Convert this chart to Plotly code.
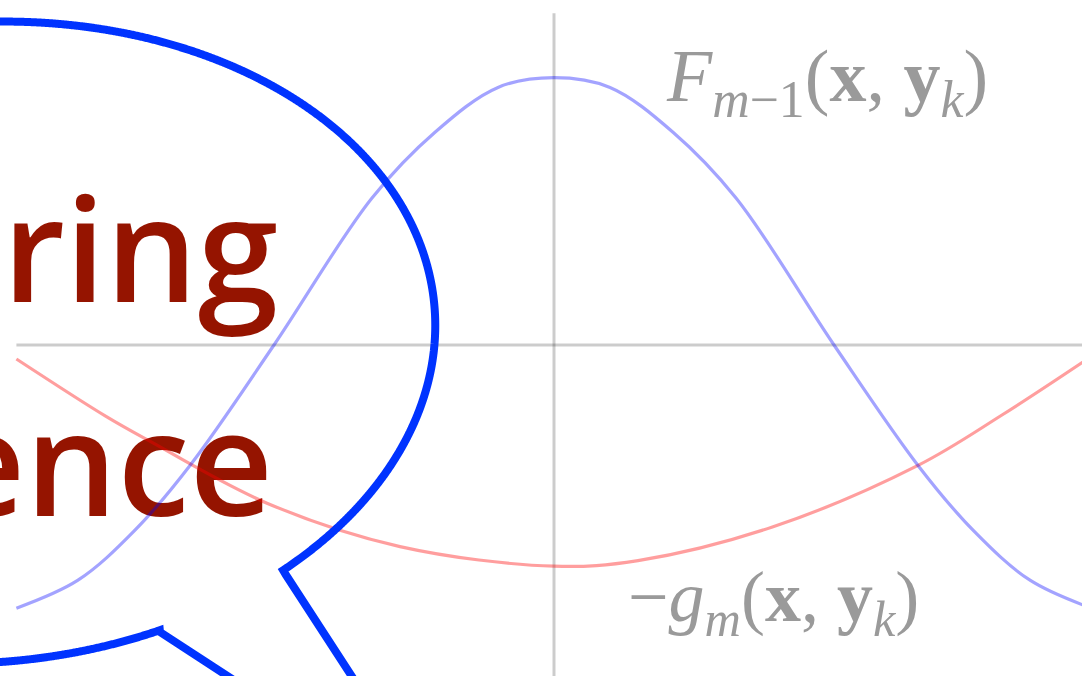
import numpy as np
import plotly.graph_objects as go

# Sampled curves (x, y in plot units)
x_blue = [-3.84, -3.4, -3.0, -2.6, -2.0, -1.3, -0.85, -0.4, 0.0, 0.4, 0.85, 1.3, 2.0, 2.6, 3.0, 3.4, 3.84]
y_blue = [-1.88, -1.68, -1.33, -0.86, 0.0, 1.05, 1.52, 1.84, 1.91, 1.84, 1.52, 1.05, 0.0, -0.86, -1.33, -1.68, -1.88]

x_red = [-3.84, -3.2, -2.9, -2.05, -1.1, 0.0, 0.6, 1.56, 2.6, 3.2, 3.84]
y_red = [-0.10, -0.51, -0.68, -1.13, -1.44, -1.58, -1.54, -1.30, -0.86, -0.50, -0.08]

# Axis extents
axis_x = [-3.84, 3.9]
axis_y = [-2.5, 2.37]

label_f = "<i>F</i><sub><i>m</i>−1</sub>(<b>x</b>, <b>y</b><sub><i>k</i></sub>)"
label_g = "−<i>g</i><sub><i>m</i></sub>(<b>x</b>, <b>y</b><sub><i>k</i></sub>)"

bubble_words = ["iring", "ence"]

W, H = 1082, 676
X0, Y0, UNIT = 554, 345, 140.0  # pixel position of the origin and pixels per unit


def to_data(px, py):
    return (px - X0) / UNIT, (Y0 - py) / UNIT


def to_paper(px, py):
    return px / W, 1 - py / H


# Speech bubble: an ellipse through these outline points (pixels), plus two tail strokes
outline_pts = [(0, 18), (67, 25), (133, 36), (200, 53), (267, 83), (333, 126),
               (367, 157), (400, 200), (417, 240), (427, 283), (432, 340), (429, 385),
               (415, 432), (393, 467), (362, 500), (322, 536),
               (0, 662), (60, 654), (112, 645), (160, 632)]
upper_start, upper_end, upper_via = (-40, 15), (286, 575), (432, 340)
lower_start, lower_end = (-40, 667), (160, 632)
tail_a_end = (362, 692)
tail_b_end = (252, 692)


def fit_ellipse(pts):
    p = np.asarray(pts, float) / 100.0
    x, y = p[:, 0], p[:, 1]
    A = np.column_stack([x * x, x * y, y * y, x, y])
    a, b, c, d, e = np.linalg.lstsq(A, np.ones(len(p)), rcond=None)[0]
    M = np.array([[a, b / 2], [b / 2, c]])
    ctr = np.linalg.solve(2 * M, -np.array([d, e]))
    k = 1 - (ctr @ M @ ctr + d * ctr[0] + e * ctr[1])
    lam, R = np.linalg.eigh(M / k)
    t = np.linspace(0, 2 * np.pi, 3000, endpoint=False)
    u = np.column_stack([np.cos(t) / np.sqrt(lam[0]), np.sin(t) / np.sqrt(lam[1])])
    return (ctr + u @ R.T) * 100.0


ring = fit_ellipse(outline_pts)
N = len(ring)


def nearest(p):
    return int(np.argmin(((ring - np.asarray(p)) ** 2).sum(axis=1)))


def arc(p_from, p_to, via=None):
    i, j = nearest(p_from), nearest(p_to)
    for step in (1, -1):
        idx = [i]
        while idx[-1] != j:
            idx.append((idx[-1] + step) % N)
        if via is None:
            if len(idx) <= N // 2:
                return ring[idx]
        elif nearest(via) in idx:
            return ring[idx]
    return ring[idx]


def path_from(points):
    segs = []
    for n, (px, py) in enumerate(points):
        qx, qy = to_paper(px, py)
        segs.append(("M" if n == 0 else "L") + f" {qx:.5f},{qy:.5f}")
    return " ".join(segs)


upper = list(map(tuple, arc(upper_start, upper_end, upper_via))) + [upper_end, tail_a_end]
lower = list(map(tuple, arc(lower_start, lower_end))) + [lower_end, tail_b_end]
bubble_path = path_from(upper) + " " + path_from(lower)

fig = go.Figure()

# Large words behind the curves
tx1, ty1 = to_data(278, 266)
tx2, ty2 = to_data(273, 480)
fig.add_trace(go.Scatter(
    x=[tx1, tx2], y=[ty1, ty2], mode="text", text=bubble_words,
    textposition="middle left",
    textfont=dict(family="Open Sans", size=145, color="#951400", weight=600),
    hoverinfo="skip", showlegend=False))

# Coordinate axes
fig.add_trace(go.Scatter(x=axis_x, y=[0, 0], mode="lines",
                         line=dict(color="rgba(0,0,0,0.2)", width=3),
                         hoverinfo="skip", showlegend=False))
fig.add_trace(go.Scatter(x=[0, 0], y=axis_y, mode="lines",
                         line=dict(color="rgba(0,0,0,0.2)", width=3),
                         hoverinfo="skip", showlegend=False))

# Curves
fig.add_trace(go.Scatter(x=x_red, y=y_red, mode="lines",
                         line=dict(color="rgba(255,0,0,0.38)", width=3.2, shape="spline"),
                         hoverinfo="skip", showlegend=False))
fig.add_trace(go.Scatter(x=x_blue, y=y_blue, mode="lines",
                         line=dict(color="rgba(0,0,255,0.36)", width=3.2, shape="spline"),
                         hoverinfo="skip", showlegend=False))

fig.add_shape(type="path", path=bubble_path, xref="paper", yref="paper",
              line=dict(color="#0033ff", width=8), layer="above")

lx1, ly1 = to_data(664, 81)
lx2, ly2 = to_data(626, 602)
label_font = dict(family="Liberation Serif", size=74, color="#9a9a9a")
fig.add_annotation(x=lx1, y=ly1, text=label_f, showarrow=False, xanchor="left",
                   yanchor="middle", font=label_font)
fig.add_annotation(x=lx2, y=ly2, text=label_g, showarrow=False, xanchor="left",
                   yanchor="middle", font=dict(label_font, size=72))

fig.update_layout(
    width=W, height=H, margin=dict(l=0, r=0, t=0, b=0),
    paper_bgcolor="white", plot_bgcolor="white",
    xaxis=dict(range=[(0 - X0) / UNIT, (W - X0) / UNIT], visible=False, fixedrange=True),
    yaxis=dict(range=[(Y0 - H) / UNIT, Y0 / UNIT], visible=False, fixedrange=True),
)

fig.write_html("out.html")
